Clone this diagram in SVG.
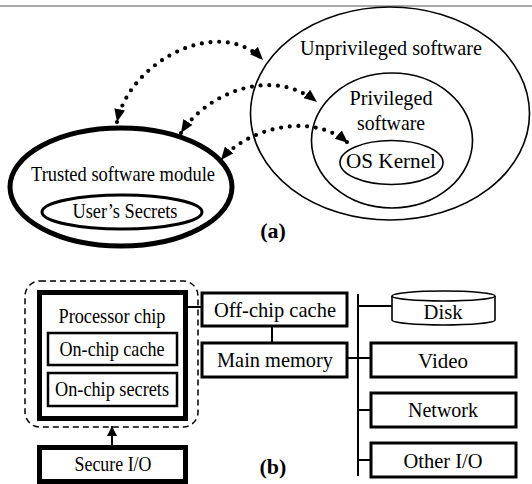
<svg xmlns="http://www.w3.org/2000/svg" width="532" height="484" viewBox="0 0 532 484">
<style>
.t{font-family:"Liberation Serif","Times New Roman",serif;font-size:21px;fill:#000;text-anchor:middle}
.lb{font-family:"Liberation Serif","Times New Roman",serif;font-size:22px;font-weight:bold;fill:#000;text-anchor:middle}
.thin{fill:#fff;stroke:#000;stroke-width:1.6}
.thick{fill:#fff;stroke:#000;stroke-width:5}
.mid{fill:#fff;stroke:#000;stroke-width:3}
.box{fill:#fff;stroke:#000;stroke-width:2.5}
.dot{fill:none;stroke:#000;stroke-width:4.2;stroke-linecap:round;stroke-dasharray:0 8.7}
.ln{fill:none;stroke:#000;stroke-width:2}
</style>
<defs>
<marker id="tri" viewBox="0 0 12 10" refX="12" refY="5" markerWidth="13" markerHeight="11" markerUnits="userSpaceOnUse" orient="auto-start-reverse">
<path d="M0,0 L12,5 L0,10 Z" fill="#000"/>
</marker>
<marker id="tri2" viewBox="0 0 10 10" refX="10" refY="5" markerWidth="10" markerHeight="10" markerUnits="userSpaceOnUse" orient="auto">
<path d="M0,0 L10,5 L0,10 Z" fill="#000"/>
</marker>
</defs>
<line x1="0" y1="6" x2="532" y2="6" stroke="#8c8c8c" stroke-width="1.5"/>

<g id="unprivileged">
<ellipse class="thin" cx="390" cy="113.5" rx="139.5" ry="106.5"/>
<text class="t" x="391" y="55" font-size="22" textLength="182" lengthAdjust="spacingAndGlyphs">Unprivileged software</text>
</g>
<g id="privileged">
<ellipse class="thin" cx="392" cy="140.5" rx="80.5" ry="67.5"/>
<text class="t" x="391" y="105" textLength="83" lengthAdjust="spacingAndGlyphs">Privileged</text>
<text class="t" x="391" y="130" textLength="68" lengthAdjust="spacingAndGlyphs">software</text>
</g>
<g id="os-kernel">
<ellipse class="thin" cx="391.5" cy="162.5" rx="51.5" ry="22"/>
<text class="t" x="391" y="168" font-size="22" textLength="90" lengthAdjust="spacingAndGlyphs">OS Kernel</text>
</g>
<g id="trusted-module">
<ellipse class="thick" cx="121" cy="187" rx="111" ry="59"/>
<text class="t" x="123" y="181" textLength="184" lengthAdjust="spacingAndGlyphs">Trusted software module</text>
</g>
<g id="users-secrets">
<ellipse class="mid" cx="122" cy="212" rx="80" ry="17" stroke-width="4"/>
<text class="t" x="125" y="218" textLength="105" lengthAdjust="spacingAndGlyphs">User’s Secrets</text>
</g>
<text class="lb" x="273" y="238">(a)</text>

<g id="connectors">
<path class="dot" d="M117,122 C130,60 220,15 263,60" marker-start="url(#tri)" marker-end="url(#tri)"/>
<path class="dot" d="M181,133 C205,95 270,65 317,102" marker-start="url(#tri)" marker-end="url(#tri)"/>
<path class="dot" d="M221,160 C245,130 310,110 348,143" marker-start="url(#tri)" marker-end="url(#tri)"/>
<line class="ln" x1="112" y1="447" x2="112" y2="426" marker-end="url(#tri2)"/>
<line class="ln" x1="186" y1="307" x2="202" y2="307"/>
<line class="ln" x1="272" y1="326" x2="272" y2="343"/>
<line class="ln" x1="358" y1="294" x2="358" y2="476"/>
<line class="ln" x1="347" y1="358" x2="371" y2="358"/>
<line class="ln" x1="358" y1="306" x2="392" y2="306"/>
<line class="ln" x1="358" y1="410" x2="371" y2="410"/>
<line class="ln" x1="358" y1="460" x2="371" y2="460"/>
</g>

<g id="secure-boundary">
<rect x="25" y="281" width="173" height="146" rx="15" fill="none" stroke="#000" stroke-width="1.5" stroke-dasharray="6 4"/>
</g>
<g id="processor-chip">
<rect class="thick" x="39.5" y="292.5" width="146" height="126"/>
<text class="t" x="112" y="323" textLength="107" lengthAdjust="spacingAndGlyphs">Processor chip</text>
</g>
<g id="on-chip-cache">
<rect class="box" x="48" y="333" width="129" height="32"/>
<text class="t" x="112" y="356" textLength="105" lengthAdjust="spacingAndGlyphs">On-chip cache</text>
</g>
<g id="on-chip-secrets">
<rect class="box" x="48" y="373" width="129" height="33"/>
<text class="t" x="112" y="396" textLength="114" lengthAdjust="spacingAndGlyphs">On-chip secrets</text>
</g>
<g id="secure-io">
<rect class="thick" x="39.5" y="447.5" width="146" height="34"/>
<text class="t" x="113" y="471" textLength="77" lengthAdjust="spacingAndGlyphs">Secure I/O</text>
</g>
<g id="off-chip-cache">
<rect class="mid" x="202" y="293" width="145" height="33"/>
<text class="t" x="275" y="317" textLength="122" lengthAdjust="spacingAndGlyphs">Off-chip cache</text>
</g>
<g id="main-memory">
<rect class="mid" x="202" y="343" width="145" height="34"/>
<text class="t" x="275" y="367" textLength="116" lengthAdjust="spacingAndGlyphs">Main memory</text>
</g>
<g id="disk">
<path d="M392,296 V320 A51.5,5 0 0 0 495,320 V296" fill="#fff" stroke="#000" stroke-width="1.6"/>
<ellipse cx="443.5" cy="296" rx="51.5" ry="5" fill="#fff" stroke="#000" stroke-width="1.6"/>
<text class="t" x="443" y="319" textLength="39" lengthAdjust="spacingAndGlyphs">Disk</text>
</g>
<g id="video">
<rect class="mid" x="371" y="343" width="145" height="34"/>
<text class="t" x="443" y="368" textLength="50" lengthAdjust="spacingAndGlyphs">Video</text>
</g>
<g id="network">
<rect class="mid" x="371" y="393" width="145" height="34"/>
<text class="t" x="443" y="417" textLength="70" lengthAdjust="spacingAndGlyphs">Network</text>
</g>
<g id="other-io">
<rect class="mid" x="371" y="443" width="145" height="34"/>
<text class="t" x="443" y="468" textLength="79" lengthAdjust="spacingAndGlyphs">Other I/O</text>
</g>
<text class="lb" x="273" y="474">(b)</text>
</svg>
